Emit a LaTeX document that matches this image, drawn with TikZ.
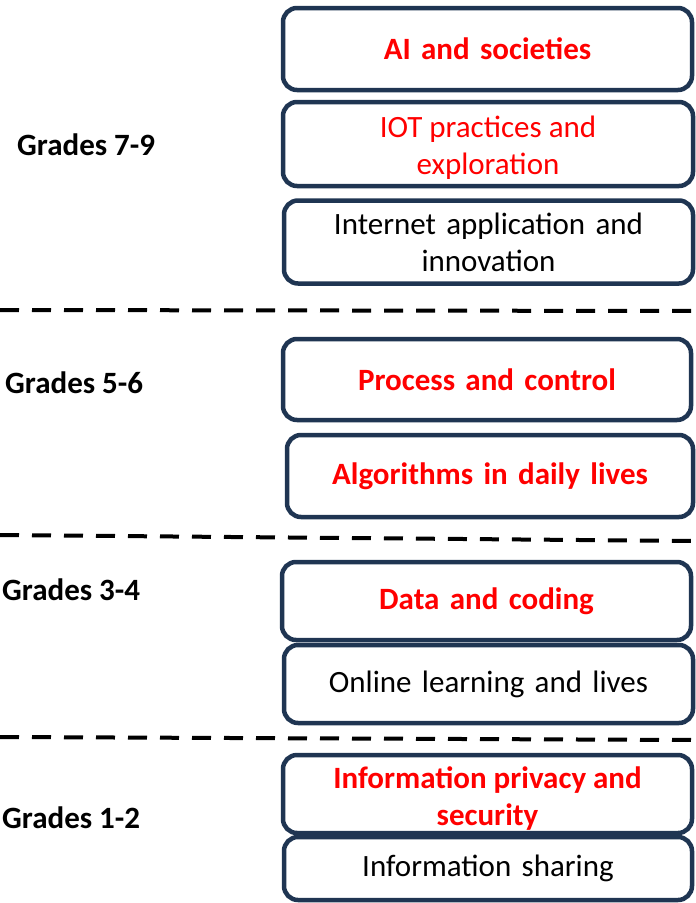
\documentclass[tikz,border=0pt]{standalone}
\usepackage{fontspec}
\setmainfont{Carlito}
\definecolor{navy}{RGB}{31,53,82}
\definecolor{hired}{RGB}{255,0,0}
\begin{document}
\begin{tikzpicture}[x=1pt,y=-1pt,
  box/.style={draw=navy,line width=4.5pt,rounded corners=14pt,fill=white,
    text width=400pt,align=center,inner sep=0pt,
    font=\fontsize{31}{37}\selectfont},
  hot/.style={text=hired,font=\fontsize{31}{37}\selectfont\bfseries},
  warm/.style={text=hired,font=\fontsize{31}{37}\selectfont},
  grade/.style={anchor=west,inner sep=0pt,font=\fontsize{31}{37}\selectfont\bfseries},
  sep/.style={dashed,dash pattern=on 19pt off 13pt,line width=4pt,black}]
\useasboundingbox (0,0) rectangle (696,903);
% dividers
\coordinate (l1a) at (0,310); \coordinate (l1b) at (696,311);
\coordinate (l2a) at (0,535); \coordinate (l2b) at (696,541);
\coordinate (l3a) at (0,737); \coordinate (l3b) at (696,740);
\draw[sep] (l1a) -- (l1b);
\draw[sep] (l2a) -- (l2b);
\draw[sep] (l3a) -- (l3b);
% boxes
\node[box,hot,minimum width=409pt,minimum height=82pt] (b1) at (487.5,49) {AI and societies};
\node[box,minimum width=410pt,minimum height=84pt] (b2) at (488,144) {};
\node[warm,align=center,inner sep=0pt] (t2) at (488,147.5) {IOT practices and\\exploration};
\node[box,minimum width=409pt,minimum height=83pt] (b3) at (488.5,242) {Internet application and\\innovation};
\node[box,hot,minimum width=408pt,minimum height=81pt] (b4) at (487,379.5) {Process and control};
\node[box,hot,minimum width=406pt,minimum height=82pt] (b5) at (490,476) {Algorithms in daily lives};
\node[box,hot,minimum width=409pt,minimum height=78pt] (b6) at (486.5,601) {Data and coding};
\node[box,minimum width=409pt,minimum height=78pt] (b7) at (488.5,684) {Online learning and lives};
\node[box,minimum width=408pt,minimum height=63pt] (b9) at (488,868.5) {Information sharing};
\node[box,minimum width=409pt,minimum height=78pt,fill=none] (b8) at (487.5,794) {};
\node[hot,align=center,inner sep=0pt] (t8) at (487.5,799) {Information privacy and\\security};
% grade labels
\node[grade] (g1) at (17,145) {Grades 7-9};
\node[grade] (g2) at (5,383) {Grades 5-6};
\node[grade] (g3) at (2,590) {Grades 3-4};
\node[grade] (g4) at (2,818) {Grades 1-2};
\end{tikzpicture}
\end{document}
